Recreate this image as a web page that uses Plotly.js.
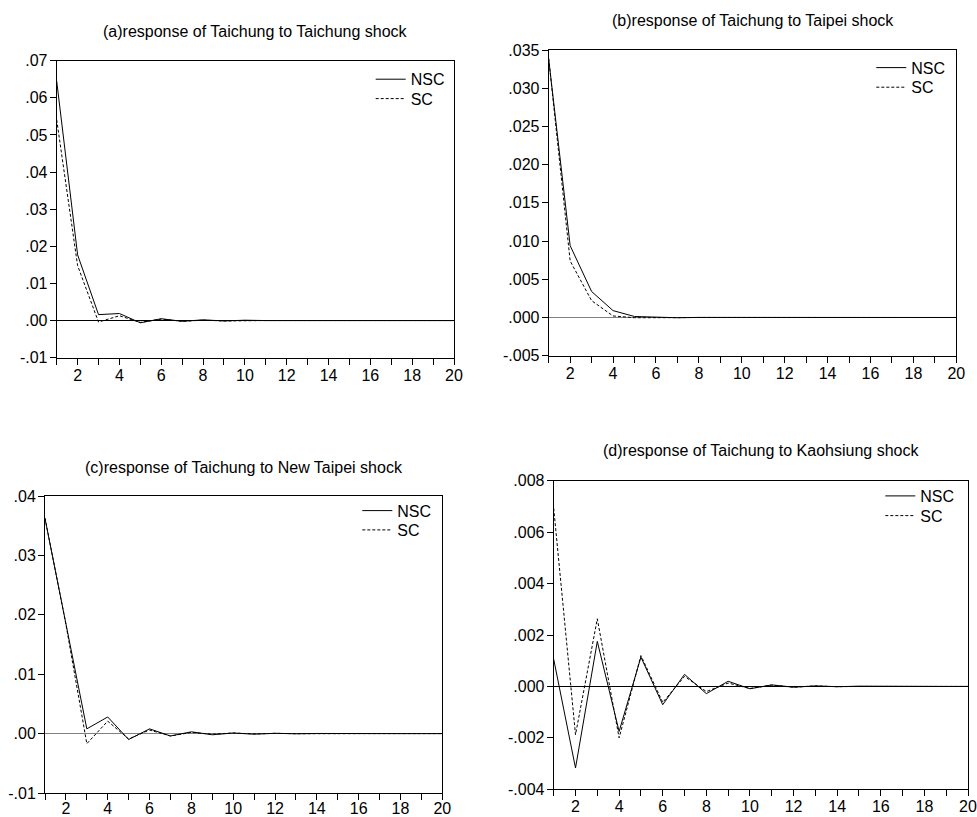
<!DOCTYPE html>
<html>
<head>
<meta charset="utf-8">
<script src="https://cdn.plot.ly/plotly-3.0.1.min.js"></script>
<style>html,body{margin:0;padding:0;background:#fff;}#chart{width:977px;height:817px;}</style>
</head>
<body>
<div id="chart"></div>
<script>
// ---- data ----
const periods = [1,2,3,4,5,6,7,8,9,10,11,12,13,14,15,16,17,18,19,20];
const seriesNames = ["NSC", "SC"];
const panelTitles = [
  "(a)response of Taichung to Taichung shock",
  "(b)response of Taichung to Taipei shock",
  "(c)response of Taichung to New Taipei shock",
  "(d)response of Taichung to Kaohsiung shock"
];
const aNSC = [0.0645, 0.0177, 0.0016, 0.0019, -0.0006, 0.0005, -0.0002, 0.0002, -0.0001, 0.0001, 0.0000, 0.0000, 0.0000, 0.0000, 0.0000, 0.0000, 0.0000, 0.0000, 0.0000, 0.0000];
const aSC  = [0.0541, 0.0148, -0.0004, 0.0013, -0.0005, 0.0004, -0.0002, 0.0001, -0.0001, 0.0000, 0.0000, 0.0000, 0.0000, 0.0000, 0.0000, 0.0000, 0.0000, 0.0000, 0.0000, 0.0000];
const bNSC = [0.0338, 0.0094, 0.0034, 0.0009, 0.00013, 0.00005, -0.00003, 0.00001, 0.0000, 0.0000, 0.0000, 0.0000, 0.0000, 0.0000, 0.0000, 0.0000, 0.0000, 0.0000, 0.0000, 0.0000];
const bSC  = [0.0339, 0.0074, 0.0022, 0.0002, -0.00003, 0.00002, -0.00002, 0.0000, 0.0000, 0.0000, 0.0000, 0.0000, 0.0000, 0.0000, 0.0000, 0.0000, 0.0000, 0.0000, 0.0000, 0.0000];
const cNSC = [0.0362, 0.0188, 0.0008, 0.0028, -0.0010, 0.0008, -0.0004, 0.0003, -0.0002, 0.0001, -0.0001, 0.00005, -0.00003, 0.00002, -0.00001, 0.00001, 0.0000, 0.0000, 0.0000, 0.0000];
const cSC  = [0.0363, 0.0184, -0.0017, 0.0021, -0.0009, 0.0006, -0.0004, 0.0002, -0.0001, 0.0001, -0.00005, 0.00004, -0.00002, 0.00001, 0.0000, 0.0000, 0.0000, 0.0000, 0.0000, 0.0000];
const dNSC = [0.00106, -0.00317, 0.00175, -0.00175, 0.00114, -0.00071, 0.00047, -0.00028, 0.00020, -0.00009, 0.00006, -0.00003, 0.00002, -0.00001, 0.00001, 0.0000, 0.0000, 0.0000, 0.0000, 0.0000];
const dSC  = [0.00693, -0.00188, 0.00263, -0.00200, 0.00120, -0.00062, 0.00039, -0.00020, 0.00013, -0.00008, 0.00005, -0.00003, 0.00002, -0.00001, 0.0000, 0.0000, 0.0000, 0.0000, 0.0000, 0.0000];

const xTickVals = periods;
const xTickText = ["","2","","4","","6","","8","","10","","12","","14","","16","","18","","20"];
const aTickVals = [-0.01, 0, 0.01, 0.02, 0.03, 0.04, 0.05, 0.06, 0.07];
const aTickText = ["-.01", ".00", ".01", ".02", ".03", ".04", ".05", ".06", ".07"];
const bTickVals = [-0.005, 0, 0.005, 0.01, 0.015, 0.02, 0.025, 0.03, 0.035];
const bTickText = ["-.005", ".000", ".005", ".010", ".015", ".020", ".025", ".030", ".035"];
const cTickVals = [-0.01, 0, 0.01, 0.02, 0.03, 0.04];
const cTickText = ["-.01", ".00", ".01", ".02", ".03", ".04"];
const dTickVals = [-0.004, -0.002, 0, 0.002, 0.004, 0.006, 0.008];
const dTickText = ["-.004", "-.002", ".000", ".002", ".004", ".006", ".008"];

// ---- layout geometry (pixels) ----
const W = 977, H = 817;
const FONT = "Liberation Sans, Arial, sans-serif";
const FS = 16;
const panels = [
  {nsc: aNSC, sc: aSC, tv: aTickVals, tt: aTickText, left: 56.7, right: 454, top: 60.7, bottom: 357.7, titleY: 32, zero: "#000", legX: 376.7, legY: [79.3, 98.7], xsoff: -3},
  {nsc: bNSC, sc: bSC, tv: bTickVals, tt: bTickText, left: 548.7, right: 956.3, top: 50, bottom: 355.7, titleY: 20.7, zero: "#808080", legX: 877.3, legY: [67.7, 87.3], xsoff: -3},
  {nsc: cNSC, sc: cSC, tv: cTickVals, tt: cTickText, left: 45, right: 442.3, top: 496, bottom: 793, titleY: 467.7, zero: "#808080", legX: 363.3, legY: [510.7, 530], xsoff: -5},
  {nsc: dNSC, sc: dSC, tv: dTickVals, tt: dTickText, left: 553.7, right: 968, top: 480.7, bottom: 789.3, titleY: 450.7, zero: "#000", legX: 886.3, legY: [496, 515.7], xsoff: -4}
];

const traces = [];
const layout = {
  width: W, height: H,
  margin: {l: 0, r: 0, t: 0, b: 0},
  paper_bgcolor: "#fff", plot_bgcolor: "#fff",
  font: {family: FONT, size: FS, color: "#000"},
  showlegend: true,
  annotations: []
};

panels.forEach((p, i) => {
  const n = i + 1;
  const xa = n === 1 ? "x" : "x" + n;
  const ya = n === 1 ? "y" : "y" + n;
  const legA = "legend" + (2 * i === 0 ? "" : (2 * i + 1));
  const legB = "legend" + (2 * i + 2);
  traces.push({
    x: periods, y: p.nsc, xaxis: xa, yaxis: ya, name: seriesNames[0], legend: legA,
    type: "scatter", mode: "lines", line: {color: "#000", width: 1}
  });
  traces.push({
    x: periods, y: p.sc, xaxis: xa, yaxis: ya, name: seriesNames[1], legend: legB,
    type: "scatter", mode: "lines", line: {color: "#000", width: 1, dash: "3px,2px"}
  });
  const xKey = n === 1 ? "xaxis" : "xaxis" + n;
  const yKey = n === 1 ? "yaxis" : "yaxis" + n;
  layout[xKey] = {
    domain: [p.left / W, p.right / W], anchor: ya,
    range: [1, 20], tickmode: "array", tickvals: xTickVals, ticktext: xTickText,
    ticks: "outside", ticklen: 6, tickwidth: 1, tickcolor: "#000",
    ticklabelstandoff: p.xsoff,
    showline: true, linecolor: "#000", linewidth: 1, mirror: true,
    showgrid: false, zeroline: false, fixedrange: true,
    tickfont: {family: FONT, size: FS, color: "#000"}
  };
  layout[yKey] = {
    domain: [1 - p.bottom / H, 1 - p.top / H], anchor: xa,
    range: [p.tv[0], p.tv[p.tv.length - 1]], tickmode: "array", tickvals: p.tv, ticktext: p.tt,
    ticks: "outside", ticklen: 6, tickwidth: 1, tickcolor: "#000",
    ticklabelstandoff: -1,
    showline: true, linecolor: "#000", linewidth: 1, mirror: true,
    showgrid: false, zeroline: true, zerolinecolor: p.zero, zerolinewidth: 1,
    fixedrange: true,
    tickfont: {family: FONT, size: FS, color: "#000"}
  };
  [legA, legB].forEach((lg, k) => {
    layout[lg] = {
      x: (p.legX - 6) / W, xanchor: "left",
      y: 1 - (p.legY[k] - 17) / H, yanchor: "top",
      bgcolor: "rgba(0,0,0,0)", borderwidth: 0,
      font: {family: FONT, size: FS, color: "#000"},
      itemwidth: 30
    };
  });
  layout.annotations.push({
    text: panelTitles[i], xref: "paper", yref: "paper",
    x: (p.left + p.right) / 2 / W, y: 1 - p.titleY / H,
    xanchor: "center", yanchor: "middle", showarrow: false,
    font: {family: FONT, size: FS, color: "#000"}
  });
});

Plotly.newPlot("chart", traces, layout, {staticPlot: true, displayModeBar: false});
</script>
</body>
</html>
